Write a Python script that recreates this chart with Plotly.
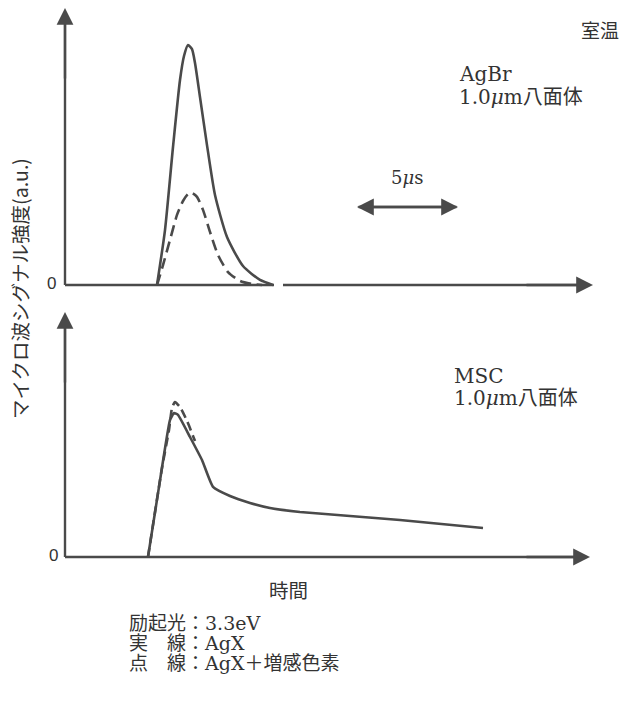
import plotly.graph_objects as go

# ---- data (time in µs, intensity in arbitrary units) ----
agbr_t_solid = [4.6, 5.0, 5.4, 5.75, 5.95, 6.15, 6.35, 6.5, 6.75, 7.1, 7.5, 8.1, 8.9, 9.75, 10.4]
agbr_i_solid = [0, 0.229, 0.575, 0.854, 0.954, 1.0, 0.983, 0.925, 0.783, 0.583, 0.375, 0.2, 0.079, 0.021, 0]

agbr_t_dash = [4.6, 4.9, 5.25, 5.6, 5.9, 6.15, 6.35, 6.6, 6.9, 7.25, 7.65, 8.15, 8.75, 9.35, 9.85]
agbr_i_dash = [0, 0.083, 0.188, 0.292, 0.35, 0.379, 0.383, 0.367, 0.313, 0.221, 0.125, 0.054, 0.017, 0.004, 0]

msc_t_solid = [4.15, 4.7, 5.25, 5.45, 5.65, 6.25, 6.85, 7.4, 8.25, 9.25, 10.25, 11.75, 14.25, 16.75, 20.9]
msc_i_solid = [0, 0.292, 0.571, 0.6, 0.592, 0.5, 0.404, 0.292, 0.254, 0.225, 0.204, 0.1875, 0.171, 0.154, 0.121]

msc_t_dash = [4.15, 4.85, 5.2, 5.35, 5.5, 5.75, 6.1, 6.5]
msc_i_dash = [0, 0.371, 0.529, 0.621, 0.646, 0.625, 0.567, 0.483]

scale_bar_us = [14.6, 19.65]   # 5 µs bar
scale_bar_level = 0.325

LINE = "#4a4a4a"
TEXT = "#333333"
SERIF = "DejaVu Serif, Noto Sans CJK JP, serif"
CJK = "Noto Sans CJK JP, sans-serif"
W, H = 620, 702

fig = go.Figure()
fig.add_trace(go.Scatter(x=agbr_t_solid, y=agbr_i_solid, mode="lines", xaxis="x", yaxis="y",
                         line=dict(color=LINE, width=2.6, shape="spline", smoothing=0.6)))
fig.add_trace(go.Scatter(x=agbr_t_dash, y=agbr_i_dash, mode="lines", xaxis="x", yaxis="y",
                         line=dict(color=LINE, width=2.6, dash="11px,6px", shape="spline", smoothing=0.6)))
fig.add_trace(go.Scatter(x=msc_t_solid, y=msc_i_solid, mode="lines", xaxis="x2", yaxis="y2",
                         line=dict(color=LINE, width=2.6, shape="spline", smoothing=0.4)))
fig.add_trace(go.Scatter(x=msc_t_dash, y=msc_i_dash, mode="lines", xaxis="x2", yaxis="y2",
                         line=dict(color=LINE, width=2.6, dash="9px,5px", shape="spline", smoothing=0.5)))

def px(x):
    return x / W

def py(y):
    return 1 - y / H

ax_common = dict(visible=False, fixedrange=True)
fig.update_layout(
    width=W, height=H, showlegend=False,
    margin=dict(l=0, r=0, t=0, b=0),
    paper_bgcolor="white", plot_bgcolor="rgba(0,0,0,0)",
    hovermode=False,
    xaxis=dict(domain=[px(60), px(600)], range=[-0.25, 26.75], anchor="y", **ax_common),
    yaxis=dict(domain=[py(290), py(5)], range=[-5 / 240, 280 / 240], anchor="x", **ax_common),
    xaxis2=dict(domain=[px(60), px(600)], range=[-0.25, 26.75], anchor="y2", **ax_common),
    yaxis2=dict(domain=[py(562), py(305)], range=[-5 / 240, 252 / 240], anchor="x2", **ax_common),
)

shapes = []
anns = []

def seg(x0, y0, x1, y1, xr, yr):
    shapes.append(dict(type="line", xref=xr, yref=yr, x0=x0, x1=x1, y0=y0, y1=y1,
                       line=dict(color=LINE, width=2.4), layer="below"))

def head(x, y, ax_, ay_, xr, yr):
    anns.append(dict(x=x, y=y, ax=ax_, ay=ay_, xref=xr, yref=yr, axref=xr, ayref=yr,
                     text="", showarrow=True, arrowhead=2, arrowsize=1.4, arrowwidth=2.4,
                     arrowcolor=LINE))

# top axes
top_y_tip = 277 / 240
seg(0, 0, 0, top_y_tip - 0.05, "x", "y")
head(0, top_y_tip, 0, top_y_tip - 0.3, "x", "y")
seg(0, 0, 10.45, 0, "x", "y")
seg(10.9, 0, 25.9, 0, "x", "y")
head(26.4, 0, 23.0, 0, "x", "y")
# bottom axes
bot_y_tip = 245 / 240
seg(0, 0, 0, bot_y_tip - 0.05, "x2", "y2")
head(0, bot_y_tip, 0, bot_y_tip - 0.3, "x2", "y2")
seg(0, 0, 25.8, 0, "x2", "y2")
head(26.25, 0, 23.0, 0, "x2", "y2")
# 5 µs scale bar (double-headed)
head(scale_bar_us[0], scale_bar_level, scale_bar_us[1], scale_bar_level, "x", "y")
head(scale_bar_us[1], scale_bar_level, scale_bar_us[0], scale_bar_level, "x", "y")

def label(text, x, y, size=18, xanchor="left", angle=0, family=SERIF):
    anns.append(dict(text=text, x=px(x), y=py(y), xref="paper", yref="paper",
                     xanchor=xanchor, yanchor="middle", showarrow=False, textangle=angle,
                     font=dict(family=family, size=size, color=TEXT)))

label("室温", 579, 29, 19, family=CJK)
label("AgBr", 457, 74, 20)
label("1.0<i>μ</i>m八面体", 457, 97, 20)
label("5<i>μ</i>s", 407, 177, 18, xanchor="center")
label("MSC", 452, 376, 20)
label("1.0<i>μ</i>m八面体", 452, 398, 20)
label("0", 51, 283, 17, xanchor="center", family="Liberation Sans, sans-serif")
label("0", 53, 555, 17, xanchor="center", family="Liberation Sans, sans-serif")
label("マイクロ波シグナル強度(a.u.)", 19, 289, 19.5, xanchor="center", angle=-90, family=CJK)
label("時間", 288, 589, 19.5, xanchor="center", family=CJK)
label("励起光：3.3eV", 127, 623, 19)
label("実　線：AgX", 127, 643, 19)
label("点　線：AgX＋増感色素", 127, 663, 19)

fig.update_layout(shapes=shapes, annotations=anns)
fig.write_html("out.html", config={"displayModeBar": False, "staticPlot": True},
               post_script="document.body.style.margin='0';")
